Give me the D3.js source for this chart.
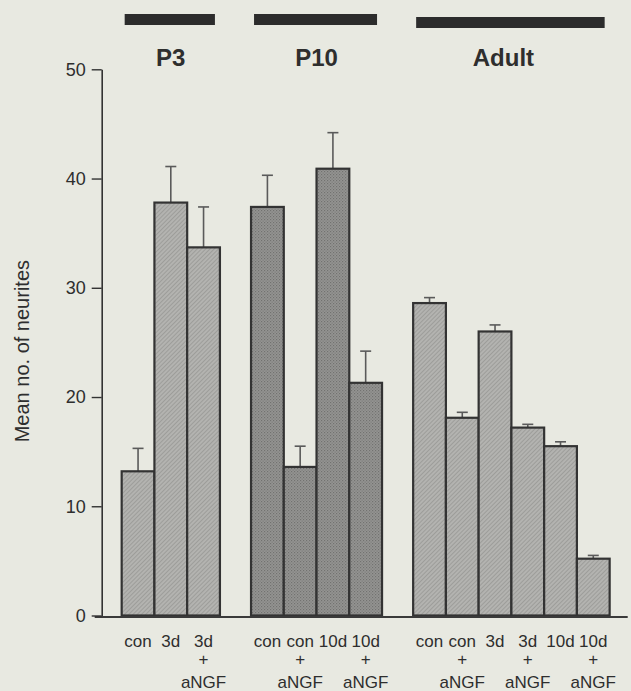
<!DOCTYPE html>
<html>
<head>
<meta charset="utf-8">
<script src="https://cdn.jsdelivr.net/npm/d3@7"></script>
<style>
  html, body { margin: 0; padding: 0; background: #e8e9e1; }
  svg { display: block; }
  text { font-family: "Liberation Sans", Arial, sans-serif; fill: #2e2e2e; }
</style>
</head>
<body>
<svg id="chart" width="631" height="691"></svg>
<script>
// Age groups and the treatment conditions within each
const groups = ["P3", "P10", "Adult"];
const barGroup = [0, 0, 0, 1, 1, 1, 1, 2, 2, 2, 2, 2, 2];
const conditionLabels = ["con", "3d", "3d", "con", "con", "10d", "10d", "con", "con", "3d", "3d", "10d", "10d"];
const withAntiNGF = [false, false, true, false, true, false, true, false, true, false, true, false, true];
const treatmentLabel = "aNGF";

// Mean number of neurites and error (SEM) per condition
const meanNeurites = [13.2, 37.8, 33.7, 37.4, 13.6, 40.9, 21.3, 28.6, 18.1, 26.0, 17.2, 15.5, 5.2];
const errNeurites = [2.1, 3.3, 3.7, 2.9, 1.9, 3.3, 2.9, 0.5, 0.5, 0.6, 0.3, 0.4, 0.3];

const yTicks = [0, 10, 20, 30, 40, 50];
const yTitle = "Mean no. of neurites";

const svg = d3.select("#chart");

// Fill textures: fine diagonal hatch (light) and stipple (dark)
const defs = svg.append("defs");
const hatch = defs.append("pattern").attr("id", "hatchLight")
  .attr("patternUnits", "userSpaceOnUse").attr("width", 3).attr("height", 3)
  .attr("patternTransform", "rotate(45)");
hatch.append("rect").attr("width", 3).attr("height", 3).attr("fill", "#b3b3b0");
hatch.append("line").attr("x1", 0).attr("y1", 0).attr("x2", 0).attr("y2", 3)
  .attr("stroke", "#8a8a88").attr("stroke-width", 1.1);

const dots = defs.append("pattern").attr("id", "stippleDark")
  .attr("patternUnits", "userSpaceOnUse").attr("width", 3).attr("height", 3);
dots.append("rect").attr("width", 3).attr("height", 3).attr("fill", "#949492");
dots.append("rect").attr("x", 0).attr("y", 0).attr("width", 1.2).attr("height", 1.2).attr("fill", "#727270");
dots.append("rect").attr("x", 1.5).attr("y", 1.5).attr("width", 1.2).attr("height", 1.2).attr("fill", "#7a7a78");

// Scales: bar slots along x (one unit per bar, spacing between age groups)
const slotStart = 0.61, groupSpacing = 0.95;
const slot = i => slotStart + i + barGroup[i] * groupSpacing;
const x = d3.scaleLinear().domain([0, 16]).range([101.7, 625.7]);
const y = d3.scaleLinear().domain([0, 50]).range([615.5, 69.3]);

const bars = meanNeurites.map((v, i) => ({
  i, v, e: errNeurites[i], g: barGroup[i],
  x0: x(slot(i)), x1: x(slot(i) + 1)
}));

// Error bars (drawn first so the bar outline sits on top of the stem)
const err = svg.append("g").attr("stroke", "#5a5a5a").attr("stroke-width", 1.6).attr("fill", "none");
bars.forEach(d => {
  const cx = (d.x0 + d.x1) / 2;
  err.append("line").attr("x1", cx).attr("x2", cx).attr("y1", y(d.v)).attr("y2", y(d.v + d.e));
  err.append("line").attr("x1", cx - 5.5).attr("x2", cx + 5.5).attr("y1", y(d.v + d.e)).attr("y2", y(d.v + d.e));
});

// Bars
svg.append("g").selectAll("rect").data(bars).join("rect")
  .attr("x", d => d.x0)
  .attr("y", d => y(d.v))
  .attr("width", d => d.x1 - d.x0)
  .attr("height", d => y(0) - y(d.v))
  .attr("fill", d => d.g === 1 ? "url(#stippleDark)" : "url(#hatchLight)")
  .attr("stroke", "#333")
  .attr("stroke-width", 2.2);

// Baseline
svg.append("line")
  .attr("x1", x(0) - 7).attr("x2", x(16) + 2)
  .attr("y1", y(0) + 1.5).attr("y2", y(0) + 1.5)
  .attr("stroke", "#3a3a3a").attr("stroke-width", 2);

// Y axis
const yAxis = svg.append("g")
  .attr("transform", `translate(${x(0)},0)`)
  .call(d3.axisLeft(y).tickValues(yTicks).tickSize(10).tickSizeOuter(0).tickPadding(6));
yAxis.select(".domain").attr("stroke", "#333").attr("stroke-width", 1.6);
yAxis.selectAll(".tick line").attr("stroke", "#333").attr("stroke-width", 1.4);
yAxis.selectAll(".tick text")
  .style("font-family", '"Liberation Sans", Arial, sans-serif')
  .style("font-size", "18px").attr("fill", "#2e2e2e");

svg.append("text")
  .attr("transform", `translate(29,${y(24.2)}) rotate(-90)`)
  .attr("text-anchor", "middle")
  .style("font-size", "20px")
  .text(yTitle);

// Category labels under each bar
const xl = svg.append("g").attr("text-anchor", "middle").style("font-size", "17px");
bars.forEach(d => {
  const cx = (d.x0 + d.x1) / 2;
  xl.append("text").attr("x", cx).attr("y", 647).text(conditionLabels[d.i]);
  if (withAntiNGF[d.i]) {
    xl.append("text").attr("x", cx).attr("y", 665).text("+");
    xl.append("text").attr("x", cx).attr("y", 688).text(treatmentLabel);
  }
});

// Age-group headers: thick bar plus label
groups.forEach((name, gi) => {
  const members = bars.filter(d => d.g === gi);
  const gx0 = d3.min(members, d => d.x0), gx1 = d3.max(members, d => d.x1);
  const top = gi === 2 ? 17 : 14;
  svg.append("rect")
    .attr("x", gx0 + 3).attr("y", top)
    .attr("width", gx1 - gx0 - 8).attr("height", 11)
    .attr("fill", "#2c2c2c");
  const lx = gi === 2 ? (gx0 + gx1) / 2 - 8 : (gx0 + gx1) / 2;
  svg.append("text")
    .attr("x", lx).attr("y", 66)
    .attr("text-anchor", "middle")
    .style("font-size", "24px").style("font-weight", "bold")
    .text(name);
});
</script>
</body>
</html>
